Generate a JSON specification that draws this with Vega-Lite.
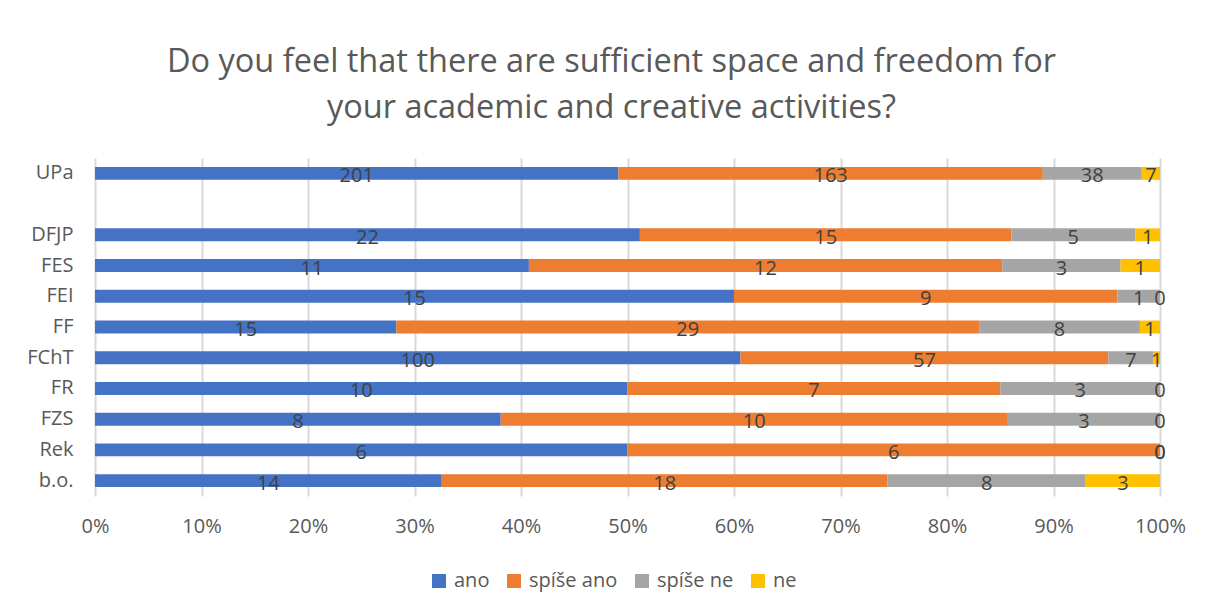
{
  "$schema": "https://vega.github.io/schema/vega-lite/v6.json",
  "autosize": {"type": "none"},
  "width": 1065,
  "height": 338,
  "padding": {"left": 95, "top": 158, "right": 46, "bottom": 114},
  "background": "white",
  "config": {"view": {"stroke": null}},
  "title": {
    "text": ["Do you feel that there are sufficient space and freedom for", "your academic and creative activities?"],
    "font": "Open Sans",
    "fontSize": 32.5,
    "fontWeight": "normal",
    "color": "#595959",
    "lineHeight": 46,
    "anchor": "middle",
    "dx": -16,
    "offset": 34
  },
  "data": {
    "values": [
      {"g": "UPa", "s": "ano", "k": 1, "v": 201}, {"g": "UPa", "s": "spíše ano", "k": 2, "v": 163}, {"g": "UPa", "s": "spíše ne", "k": 3, "v": 38}, {"g": "UPa", "s": "ne", "k": 4, "v": 7},
      {"g": "DFJP", "s": "ano", "k": 1, "v": 22}, {"g": "DFJP", "s": "spíše ano", "k": 2, "v": 15}, {"g": "DFJP", "s": "spíše ne", "k": 3, "v": 5}, {"g": "DFJP", "s": "ne", "k": 4, "v": 1},
      {"g": "FES", "s": "ano", "k": 1, "v": 11}, {"g": "FES", "s": "spíše ano", "k": 2, "v": 12}, {"g": "FES", "s": "spíše ne", "k": 3, "v": 3}, {"g": "FES", "s": "ne", "k": 4, "v": 1},
      {"g": "FEI", "s": "ano", "k": 1, "v": 15}, {"g": "FEI", "s": "spíše ano", "k": 2, "v": 9}, {"g": "FEI", "s": "spíše ne", "k": 3, "v": 1}, {"g": "FEI", "s": "ne", "k": 4, "v": 0},
      {"g": "FF", "s": "ano", "k": 1, "v": 15}, {"g": "FF", "s": "spíše ano", "k": 2, "v": 29}, {"g": "FF", "s": "spíše ne", "k": 3, "v": 8}, {"g": "FF", "s": "ne", "k": 4, "v": 1},
      {"g": "FChT", "s": "ano", "k": 1, "v": 100}, {"g": "FChT", "s": "spíše ano", "k": 2, "v": 57}, {"g": "FChT", "s": "spíše ne", "k": 3, "v": 7}, {"g": "FChT", "s": "ne", "k": 4, "v": 1},
      {"g": "FR", "s": "ano", "k": 1, "v": 10}, {"g": "FR", "s": "spíše ano", "k": 2, "v": 7}, {"g": "FR", "s": "spíše ne", "k": 3, "v": 3}, {"g": "FR", "s": "ne", "k": 4, "v": 0},
      {"g": "FZS", "s": "ano", "k": 1, "v": 8}, {"g": "FZS", "s": "spíše ano", "k": 2, "v": 10}, {"g": "FZS", "s": "spíše ne", "k": 3, "v": 3}, {"g": "FZS", "s": "ne", "k": 4, "v": 0},
      {"g": "Rek", "s": "ano", "k": 1, "v": 6}, {"g": "Rek", "s": "spíše ano", "k": 2, "v": 6}, {"g": "Rek", "s": "spíše ne", "k": 3, "v": 0}, {"g": "Rek", "s": "ne", "k": 4, "v": 0},
      {"g": "b.o.", "s": "ano", "k": 1, "v": 14}, {"g": "b.o.", "s": "spíše ano", "k": 2, "v": 18}, {"g": "b.o.", "s": "spíše ne", "k": 3, "v": 8}, {"g": "b.o.", "s": "ne", "k": 4, "v": 3}
    ]
  },
  "encoding": {
    "y": {
      "field": "g",
      "type": "nominal",
      "scale": {"domain": ["UPa", " ", "DFJP", "FES", "FEI", "FF", "FChT", "FR", "FZS", "Rek", "b.o."], "paddingInner": 0.58, "paddingOuter": 0.29},
      "axis": {"title": null, "domain": false, "ticks": false, "labelFont": "Open Sans", "labelFontSize": 20, "labelColor": "#595959", "labelPadding": 22}
    }
  },
  "layer": [
    {
      "mark": {"type": "bar"},
      "encoding": {
        "x": {
          "field": "v",
          "type": "quantitative",
          "stack": "normalize",
          "scale": {"domain": [0, 1], "nice": false},
          "axis": {"title": null, "format": "%", "values": [0, 0.1, 0.2, 0.3, 0.4, 0.5, 0.6, 0.7, 0.8, 0.9, 1], "labelOverlap": false, "domain": false, "ticks": false, "grid": true, "gridColor": "#d9d9d9", "gridWidth": 2, "labelFont": "Open Sans", "labelFontSize": 20, "labelColor": "#595959", "labelPadding": 20, "labelFlush": false}
        },
        "color": {
          "field": "s",
          "type": "nominal",
          "scale": {"domain": ["ano", "spíše ano", "spíše ne", "ne"], "range": ["#4472C4", "#ED7D31", "#A5A5A5", "#FFC000"]},
          "legend": {"title": null, "orient": "none", "legendX": 334, "legendY": 413, "direction": "horizontal", "symbolType": "square", "symbolSize": 196, "symbolStrokeWidth": 0, "labelFont": "Open Sans", "labelFontSize": 20, "labelColor": "#595959", "labelOffset": 5, "columnPadding": 14}
        },
        "order": {"field": "k", "type": "quantitative"}
      }
    },
    {
      "mark": {"type": "text", "font": "Open Sans", "fontSize": 20, "color": "#404040", "baseline": "middle", "dy": 3},
      "encoding": {
        "x": {"field": "v", "type": "quantitative", "stack": "normalize", "bandPosition": 0.5},
        "text": {"field": "v", "type": "quantitative"},
        "order": {"field": "k", "type": "quantitative"}
      }
    }
  ]
}
